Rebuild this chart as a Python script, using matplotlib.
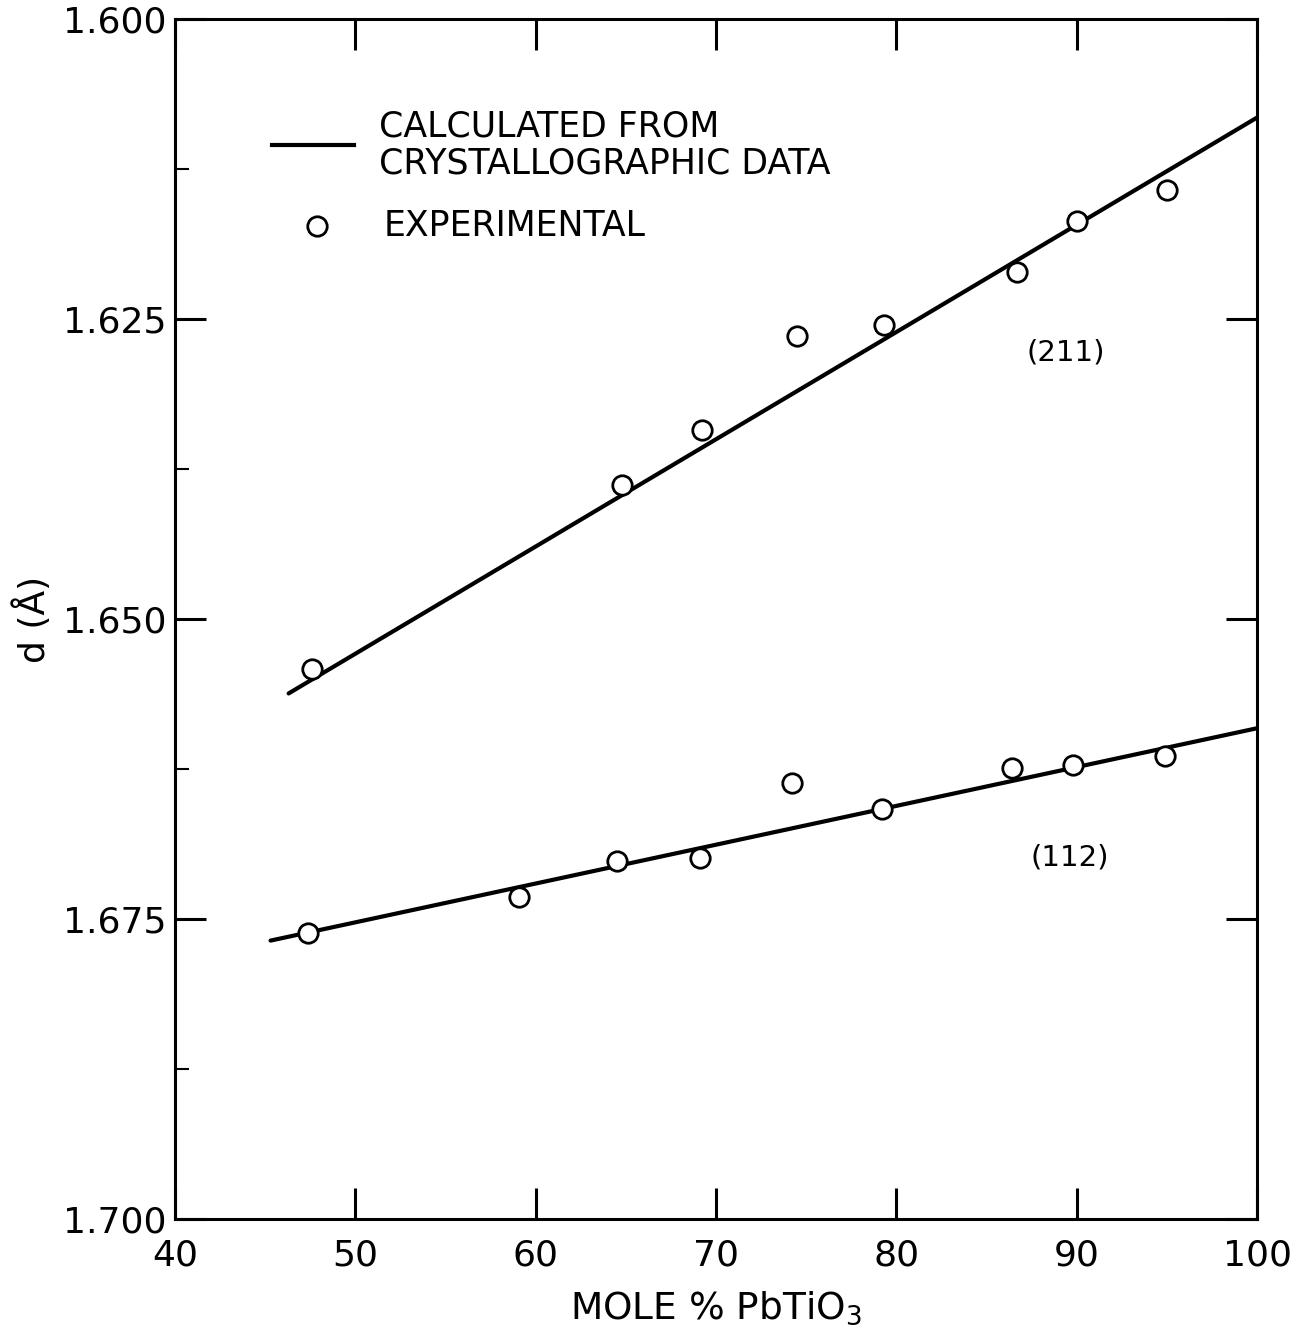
import numpy as np
import matplotlib
matplotlib.use('Agg')
import matplotlib.pyplot as plt
from matplotlib.ticker import MultipleLocator

# (211) reflection
x211 = [47.6, 64.8, 69.2, 74.5, 79.3, 86.7, 90.0, 95.0]
d211 = [1.6542, 1.6388, 1.6342, 1.6264, 1.6255, 1.6211, 1.6168, 1.6142]
# calculated line (211), end points
xc211 = [46.3, 100.0]
dc211 = [1.6562, 1.6082]

# (112) reflection
x112 = [47.4, 59.1, 64.5, 69.1, 74.2, 79.2, 86.4, 89.8, 94.9]
d112 = [1.6762, 1.6732, 1.6702, 1.6699, 1.6637, 1.6658, 1.6624, 1.6622, 1.6614]
# calculated line (112), end points
xc112 = [45.3, 100.0]
dc112 = [1.6768, 1.6591]

xticks = [40, 50, 60, 70, 80, 90, 100]
yticks = [1.600, 1.625, 1.650, 1.675, 1.700]
ylabels = ['1.600', '1.625', '1.650', '1.675', '1.700']

plt.rcParams['font.family'] = ['DejaVu Sans']

fig = plt.figure(figsize=(12.99, 13.42), dpi=100)
ax = fig.add_axes([0.1347, 0.0917, 0.833, 0.894])

ax.plot(xc211, dc211, color='black', lw=3.0, solid_capstyle='round')
ax.plot(xc112, dc112, color='black', lw=3.0, solid_capstyle='round')
ax.plot(x211, d211, 'o', ms=14, mfc='white', mec='black', mew=2.0)
ax.plot(x112, d112, 'o', ms=14, mfc='white', mec='black', mew=2.0)

ax.set_xlim(40, 100)
ax.set_ylim(1.700, 1.600)
ax.set_xticks(xticks)
ax.set_xticklabels([str(v) for v in xticks])
ax.set_yticks(yticks)
ax.set_yticklabels(ylabels)
ax.yaxis.set_minor_locator(MultipleLocator(0.0125))

for s in ax.spines.values():
    s.set_linewidth(2.2)

ax.tick_params(axis='both', which='major', direction='in', length=22, width=2.2,
               labelsize=26, top=True, right=True)
ax.tick_params(axis='x', which='major', pad=14)
ax.tick_params(axis='y', which='major', pad=6)
ax.tick_params(axis='y', which='minor', direction='in', length=10, width=1.5,
               left=True, right=False)

ax.set_xlabel('MOLE % PbTiO$_3$', fontsize=27, labelpad=12)
ax.set_ylabel('d (Å)', fontsize=26, labelpad=8)

# legend drawn by hand
ax.plot([0.09, 0.165], [0.895, 0.895], color='black', lw=3.0, transform=ax.transAxes)
ax.text(0.189, 0.895, 'CALCULATED FROM\nCRYSTALLOGRAPHIC DATA', transform=ax.transAxes,
        fontsize=25, va='center', ha='left', linespacing=1.1)
ax.plot([0.131], [0.828], 'o', ms=14, mfc='white', mec='black', mew=2.0,
        transform=ax.transAxes)
ax.text(0.193, 0.828, 'EXPERIMENTAL', transform=ax.transAxes, fontsize=25,
        va='center', ha='left')

ax.text(89.4, 1.6278, '(211)', fontsize=21, ha='center', va='center')
ax.text(89.6, 1.6699, '(112)', fontsize=21, ha='center', va='center')

fig.savefig('out.png', dpi=100, facecolor='white')
